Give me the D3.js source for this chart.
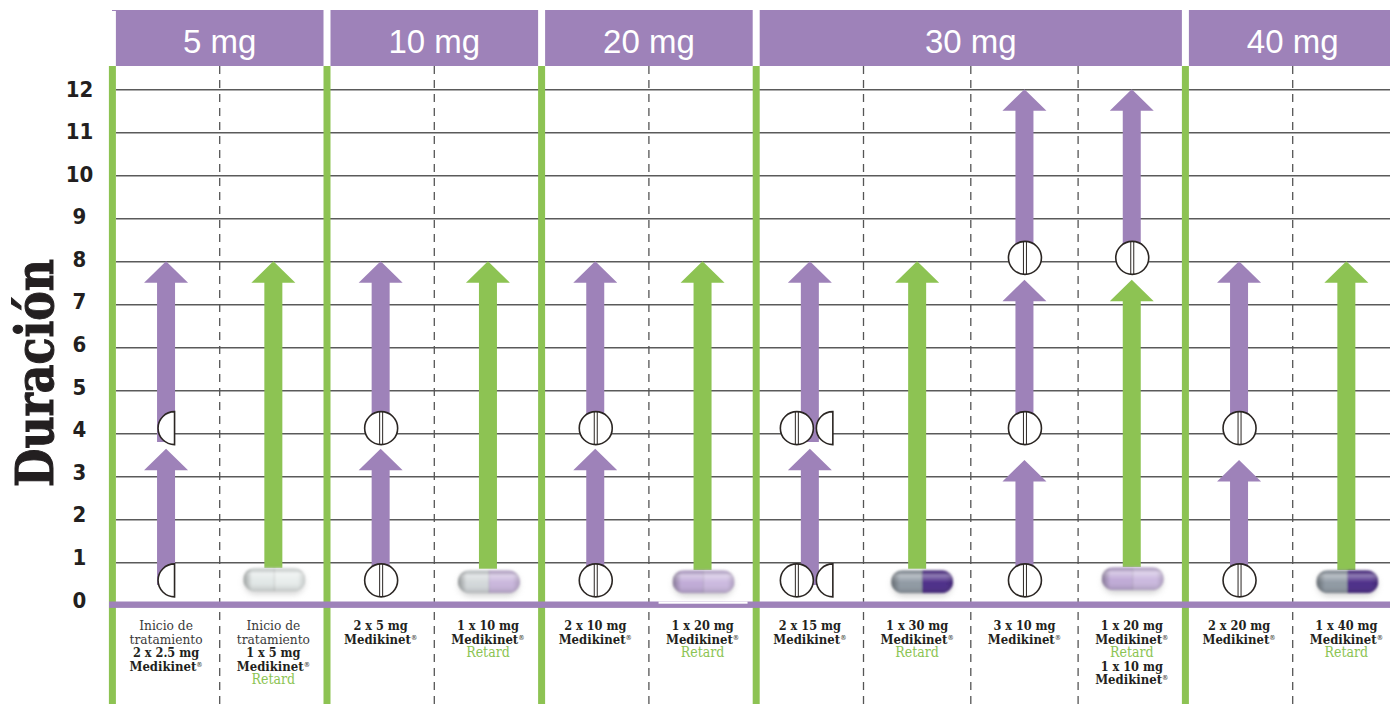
<!DOCTYPE html>
<html>
<head>
<meta charset="utf-8">
<script src="https://cdn.jsdelivr.net/npm/d3@7"></script>
<style>
  body { margin: 0; background: #fff; overflow: hidden; }
  svg { display: block; }
  .grid path { display: none; }
  .grid line { stroke: #5a5a5a; stroke-width: 1.4; }
  .yaxis path, .yaxis line { display: none; }
  .yaxis text { font-family: "DejaVu Sans Condensed", "DejaVu Sans", sans-serif; font-weight: 700; font-size: 22px; fill: #231f20; text-anchor: middle; }
  .doseLabel { font-family: "Liberation Sans", sans-serif; font-size: 33px; fill: #fff; text-anchor: middle; }
  .colText { font-family: "DejaVu Serif Condensed", "DejaVu Serif", serif; font-size: 12.6px; text-anchor: middle; fill: #231f20; }
  .colText .bold { font-weight: 700; }
  .colText .brand { font-weight: 700; font-size: 13px; }
  .colText .light { fill: #3a3a3a; font-size: 13.6px; }
  .colText .retard { fill: #8cc453; font-size: 14px; }
</style>
</head>
<body>
<div id="chart"></div>
<script>
var w = 1390, h = 704;
var purple = "#9e82b9", green = "#8dc353", ink = "#2b2623";

// data
var doseGroups = ["5 mg", "10 mg", "20 mg", "30 mg", "40 mg"];
var groupSizes = [2, 2, 2, 4, 2];
var columns = d3.range(12);
var hourTicks = d3.range(0, 13);
var yTitle = "Duración";

// column, start hour, end hour (tip), kind
var arrows = [
  [0, 0.47, 3.64, "ir"], [0, 3.8, 8, "ir"],
  [1, 0.87, 8, "xr"],
  [2, 0.5, 3.64, "ir"], [2, 3.8, 8, "ir"],
  [3, 0.85, 8, "xr"],
  [4, 0.5, 3.64, "ir"], [4, 3.8, 8, "ir"],
  [5, 0.82, 8, "xr"],
  [6, 0.47, 3.64, "ir"], [6, 3.8, 8, "ir"],
  [7, 0.85, 8, "xr"],
  [8, 0.5, 3.38, "ir"], [8, 3.9, 7.57, "ir"], [8, 7.9, 12, "ir"],
  [9, 0.89, 7.57, "xr"], [9, 7.9, 12, "ir"],
  [10, 0.5, 3.38, "ir"], [10, 3.9, 8, "ir"],
  [11, 0.82, 8, "xr"]
];

// column, hour, kind
var tablets = [
  [0, 0.58, "half"], [0, 4.12, "half"],
  [2, 0.58, "full"], [2, 4.12, "full"],
  [4, 0.58, "full"], [4, 4.12, "full"],
  [6, 0.58, "fullHalf"], [6, 4.12, "fullHalf"],
  [8, 0.58, "full"], [8, 4.12, "full"], [8, 8.08, "full"],
  [9, 8.08, "full"],
  [10, 0.58, "full"], [10, 4.12, "full"]
];

// column, hour, kind
var capsules = [
  [1, 0.6, "white"], [3, 0.55, "greyLilac"], [5, 0.55, "lilac"],
  [7, 0.55, "greyDark"], [9, 0.62, "lilac"], [11, 0.55, "greyDark"]
];
var capsuleColors = {
  white: ["#e2e8e7", "#e8edec"],
  greyLilac: ["#d3d8da", "#c9b6dc"],
  lilac: ["#c0abd7", "#cbb9df"],
  greyDark: ["#8f99a3", "#4c2c88"]
};

var columnText = [
  [["Inicio de", "light"], ["tratamiento", "light"], ["2 x 2.5 mg", "bold"], ["Medikinet", "brand"]],
  [["Inicio de", "light"], ["tratamiento", "light"], ["1 x 5 mg", "bold"], ["Medikinet", "brand"], ["Retard", "retard"]],
  [["2 x 5 mg", "bold"], ["Medikinet", "brand"]],
  [["1 x 10 mg", "bold"], ["Medikinet", "brand"], ["Retard", "retard"]],
  [["2 x 10 mg", "bold"], ["Medikinet", "brand"]],
  [["1 x 20 mg", "bold"], ["Medikinet", "brand"], ["Retard", "retard"]],
  [["2 x 15 mg", "bold"], ["Medikinet", "brand"]],
  [["1 x 30 mg", "bold"], ["Medikinet", "brand"], ["Retard", "retard"]],
  [["3 x 10 mg", "bold"], ["Medikinet", "brand"]],
  [["1 x 20 mg", "bold"], ["Medikinet", "brand"], ["Retard", "retard"], ["1 x 10 mg", "bold"], ["Medikinet", "brand"]],
  [["2 x 20 mg", "bold"], ["Medikinet", "brand"]],
  [["1 x 40 mg", "bold"], ["Medikinet", "brand"], ["Retard", "retard"]]
];

var svg = d3.select("#chart").append("svg").attr("width", w).attr("height", h);
var defs = svg.append("defs");

var xScale = d3.scaleBand().domain(columns).range([112.4, 1400]);
var yScale = d3.scaleLinear().domain([0, 12]).range([605.3, 89.3]);
// the printed numbers sit on a slightly tighter spacing than the lines
var labelScale = d3.scaleLinear().domain([0, 12]).range([604, 93]);
var cx = function(c) { return xScale(c) + xScale.bandwidth() / 2; };

// group edges from the column counts
var edges = [];
var running = 0;
groupSizes.forEach(function(n, i) {
  edges.push({ label: doseGroups[i], start: running, end: running + n });
  running += n;
});

// header bars
svg.append("rect").attr("x", 112).attr("y", 10).attr("width", 6).attr("height", 1).attr("fill", purple);
var head = svg.append("g").selectAll("g").data(edges).enter().append("g");
head.append("rect")
  .attr("x", function(d) { return xScale(d.start) + 3.5; })
  .attr("y", 10)
  .attr("width", function(d) { return Math.min(w, xScale(d.start) + (d.end - d.start) * xScale.step() - 3.5) - (xScale(d.start) + 3.5); })
  .attr("height", 56)
  .attr("fill", purple);
head.append("text")
  .attr("class", "doseLabel")
  .attr("x", function(d) { return xScale(d.start) + (d.end - d.start) * xScale.step() / 2; })
  .attr("y", 53)
  .text(function(d) { return d.label; });

// grid
svg.append("g")
  .attr("class", "grid")
  .attr("transform", "translate(116,0)")
  .call(d3.axisLeft(yScale).tickValues(hourTicks.slice(1)).tickSize(-(w - 116)).tickFormat(""));

// dashed lines between the columns of a group
var groupStarts = edges.map(function(d) { return d.start; });
svg.append("g").selectAll("line")
  .data(columns.filter(function(c) { return groupStarts.indexOf(c) < 0; }))
  .enter().append("line")
  .attr("x1", function(c) { return xScale(c); })
  .attr("x2", function(c) { return xScale(c); })
  .attr("y1", 66).attr("y2", h)
  .attr("stroke", "#555").attr("stroke-width", 1.3).attr("stroke-dasharray", "8,6");

// green dividers
svg.append("g").selectAll("rect")
  .data(groupStarts)
  .enter().append("rect")
  .attr("x", function(c) { return xScale(c) - 3.5; })
  .attr("y", 66).attr("width", 7).attr("height", h - 66)
  .attr("fill", green);

// arrows
var shaft = 18, headW = 44, headH = 21.5;
svg.append("g").selectAll("path")
  .data(arrows)
  .enter().append("path")
  .attr("fill", function(d) { return d[3] === "xr" ? green : purple; })
  .attr("d", function(d) {
    var x = cx(d[0]), b = yScale(d[1]), t = yScale(d[2]);
    var p = d3.path();
    p.moveTo(x - shaft / 2, b);
    p.lineTo(x - shaft / 2, t + headH);
    p.lineTo(x - headW / 2, t + headH);
    p.lineTo(x, t);
    p.lineTo(x + headW / 2, t + headH);
    p.lineTo(x + shaft / 2, t + headH);
    p.lineTo(x + shaft / 2, b);
    p.closePath();
    return p.toString();
  });

// tablets
var r = 16.5;
function fullTablet(g, x, y) {
  g.append("circle").attr("cx", x).attr("cy", y).attr("r", r)
    .attr("fill", "#fff").attr("stroke", ink).attr("stroke-width", 1.6);
  [-1.5, 1.5].forEach(function(o) {
    g.append("line").attr("x1", x + o).attr("x2", x + o)
      .attr("y1", y - r).attr("y2", y + r)
      .attr("stroke", ink).attr("stroke-width", 1);
  });
}
function halfTablet(g, flatX, y) {
  var p = d3.path();
  p.moveTo(flatX, y - r);
  p.arc(flatX, y, r, -Math.PI / 2, Math.PI / 2, true);
  p.closePath();
  g.append("path").attr("d", p.toString())
    .attr("fill", "#fff").attr("stroke", ink).attr("stroke-width", 1.6);
}
var tabletLayer = svg.append("g");
tablets.forEach(function(d) {
  var x = cx(d[0]), y = yScale(d[1]);
  if (d[2] === "half") halfTablet(tabletLayer, x + 8.5, y);
  if (d[2] === "full") fullTablet(tabletLayer, x + 0.5, y);
  if (d[2] === "fullHalf") {
    fullTablet(tabletLayer, x - 13, y);
    halfTablet(tabletLayer, x + 23, y);
  }
});

// capsules
defs.append("filter").attr("id", "soft").attr("x", "-20%").attr("y", "-50%").attr("width", "140%").attr("height", "200%")
  .append("feGaussianBlur").attr("stdDeviation", 3);
defs.append("filter").attr("id", "edge").attr("x", "-5%").attr("y", "-15%").attr("width", "110%").attr("height", "130%")
  .append("feGaussianBlur").attr("stdDeviation", 0.9);
var shade = defs.append("linearGradient").attr("id", "shadeV").attr("x1", 0).attr("x2", 0).attr("y1", 0).attr("y2", 1);
[[0, "#000", .04], [.22, "#fff", .4], [.55, "#fff", 0], [1, "#000", .16]].forEach(function(s) {
  shade.append("stop").attr("offset", s[0]).attr("stop-color", s[1]).attr("stop-opacity", s[2]);
});
var ends = defs.append("linearGradient").attr("id", "shadeH");
[[0, "#000", .32], [.14, "#000", 0], [.88, "#000", 0], [1, "#000", .15]].forEach(function(s) {
  ends.append("stop").attr("offset", s[0]).attr("stop-color", s[1]).attr("stop-opacity", s[2]);
});
var capW = 62, capH = 23;
var capNudge = { 7: 4 };
var capLayer = svg.append("g");
capsules.forEach(function(d, i) {
  var x = cx(d[0]) + 1 + (capNudge[d[0]] || 0), y = yScale(d[1]);
  var left = x - capW / 2, top = y - capH / 2;
  var colors = capsuleColors[d[2]];
  capLayer.append("rect").attr("x", left + 1).attr("y", top + 3).attr("width", capW - 2).attr("height", capH)
    .attr("rx", capH / 2).attr("fill", "#a5a5a5").attr("opacity", .5).attr("filter", "url(#soft)");
  defs.append("clipPath").attr("id", "cap" + i).append("rect")
    .attr("x", left).attr("y", top).attr("width", capW).attr("height", capH).attr("rx", capH / 2);
  var g = capLayer.append("g").attr("filter", "url(#edge)").append("g").attr("clip-path", "url(#cap" + i + ")");
  g.append("rect").attr("x", left).attr("y", top).attr("width", capW / 2).attr("height", capH).attr("fill", colors[0]);
  g.append("rect").attr("x", x).attr("y", top).attr("width", capW / 2).attr("height", capH).attr("fill", colors[1]);
  g.append("rect").attr("x", left).attr("y", top).attr("width", capW).attr("height", capH).attr("fill", "url(#shadeV)");
  g.append("rect").attr("x", left).attr("y", top).attr("width", capW).attr("height", capH).attr("fill", "url(#shadeH)");
  g.append("line").attr("x1", x).attr("x2", x).attr("y1", top).attr("y2", top + capH)
    .attr("stroke", "#000").attr("stroke-opacity", .1);
});

// purple band at zero
svg.append("rect").attr("x", 109).attr("y", yScale(0) - 3.8).attr("width", w - 109).attr("height", 6.4).attr("fill", purple);
// white edge left by the capsule picture in the 1 x 20 mg column
svg.append("rect").attr("x", cx(5) - 44).attr("y", yScale(0) - 3.8).attr("width", 89).attr("height", 2.2).attr("fill", "#fff");

// hour labels
var yAxis = svg.append("g")
  .attr("class", "yaxis")
  .attr("transform", "translate(79.5,-4)")
  .call(d3.axisLeft(labelScale).tickValues(hourTicks).tickSize(0).tickPadding(0));
yAxis.select(".domain").remove();
yAxis.selectAll("text").attr("x", 0);

svg.append("text")
  .attr("transform", "translate(53,487) rotate(-90)")
  .attr("font-family", "'DejaVu Serif Condensed', 'DejaVu Serif', serif")
  .attr("font-weight", 700)
  .attr("font-size", 52)
  .attr("fill", "#231f20")
  .attr("stroke", "#231f20")
  .attr("stroke-width", 1)
  .attr("textLength", 228)
  .attr("lengthAdjust", "spacingAndGlyphs")
  .text(yTitle);

// texts under each column
var textCols = svg.append("g").selectAll("g")
  .data(columnText)
  .enter().append("g")
  .attr("class", "colText")
  .attr("transform", function(d, i) { return "translate(" + cx(i) + ",0)"; });
textCols.each(function(lines) {
  var g = d3.select(this);
  lines.forEach(function(l, i) {
    var t = g.append("text").attr("y", 630 + i * 13.5).attr("class", l[1]).text(l[0]);
    if (l[1] === "brand") {
      t.append("tspan").attr("font-size", 7).attr("font-weight", 400).attr("dy", -4).text("®");
    }
  });
});
</script>
</body>
</html>
